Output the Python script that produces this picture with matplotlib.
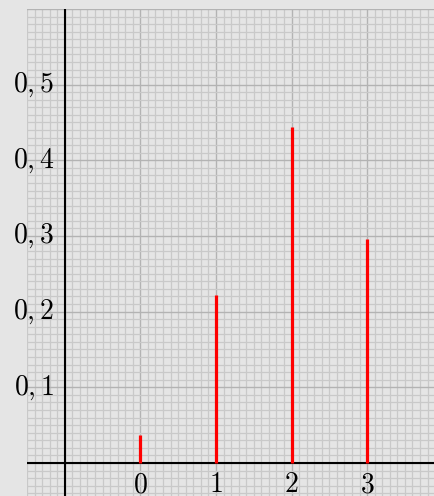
import numpy as np
import matplotlib.pyplot as plt
from matplotlib.ticker import MultipleLocator

plt.rcParams['mathtext.fontset'] = 'cm'

# binomial-like distribution values
k_values = [0, 1, 2, 3]
probs = [0.037, 0.222, 0.444, 0.296]
y_ticks = [0.1, 0.2, 0.3, 0.4, 0.5]
y_labels = ['$0,1$', '$0,2$', '$0,3$', '$0,4$', '$0,5$']
x_labels = ['$0$', '$1$', '$2$', '$3$']

bg = '#e5e5e5'
fig = plt.figure(figsize=(4.34, 4.96), dpi=100, facecolor=bg)
ax = fig.add_axes([27 / 434, 0, 1 - 27 / 434, 1 - 9 / 496])
ax.set_facecolor(bg)

ax.set_xlim(-1.5, 3.885)
ax.set_ylim(-0.0437, 0.6)

ax.xaxis.set_major_locator(MultipleLocator(1))
ax.xaxis.set_minor_locator(MultipleLocator(0.1))
ax.yaxis.set_major_locator(MultipleLocator(0.1))
ax.yaxis.set_minor_locator(MultipleLocator(0.01))
ax.grid(which='minor', color='#c9c9c9', linewidth=0.9)
ax.grid(which='major', color='#b3b3b3', linewidth=1.0)
ax.set_axisbelow(True)
ax.tick_params(which='both', length=0, labelbottom=False, labelleft=False)
for s in ax.spines.values():
    s.set_visible(False)

# axis lines through origin-ish
ax.axvline(-1, color='black', linewidth=1.5, zorder=2)
ax.axhline(0, color='black', linewidth=1.5, zorder=2)

ax.vlines(k_values, 0, probs, color='red', linewidth=2.3, zorder=3)

for xv, lab in zip(k_values, x_labels):
    ax.text(xv, -0.028, lab, ha='center', va='center', fontsize=20,
            clip_on=False)
for yv, lab in zip(y_ticks, y_labels):
    ax.text(-1.14, yv, lab, ha='right', va='center', fontsize=20,
            clip_on=False)

fig.savefig('out.png', dpi=100, facecolor=bg)
